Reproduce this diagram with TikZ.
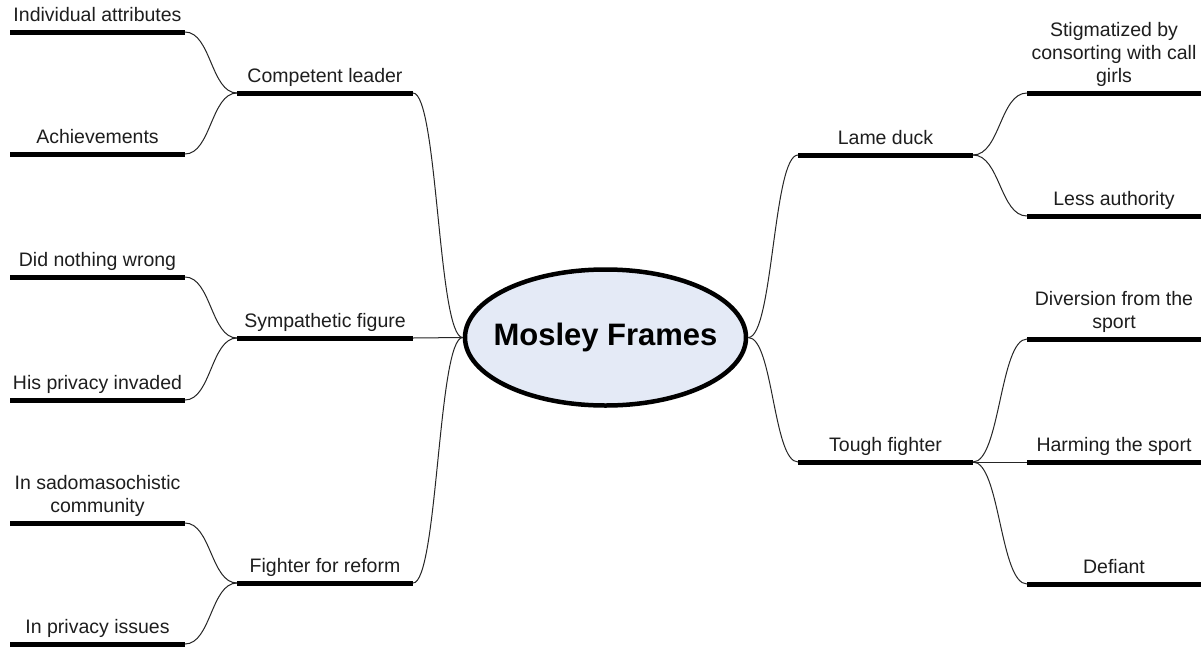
\documentclass[tikz,border=0pt]{standalone}
\usepackage{fontspec}
\setmainfont{Liberation Sans}
\usetikzlibrary{calc,shapes.geometric}
\definecolor{rootfill}{RGB}{228,234,246}
\definecolor{ink}{RGB}{30,30,30}
\begin{document}
\begin{tikzpicture}[x=1pt,y=-1pt,
  bar/.style={line width=5pt,black},
  wire/.style={line width=1pt,black!85},
  link/.style={wire,
    to path={let \p1=(\tikztostart), \p2=(\tikztotarget) in
      .. controls ({(\x1+\x2)/2},\y1) and ({(\x1+\x2)/2},\y2) .. (\tikztotarget)}},
  lbl/.style={inner sep=0pt,text depth=0pt,align=center,text=ink,
    font=\fontsize{19.5}{23}\selectfont},
  rootnode/.style={ellipse,draw,line width=4.5pt,fill=rootfill,inner sep=0pt,
    minimum width=281pt,minimum height=136pt},
  roottext/.style={inner sep=0pt,font=\bfseries\fontsize{31}{36}\selectfont}]
\useasboundingbox[fill=white] (0,0) rectangle (1201,648);

% central topic
\node[rootnode] (root) at (605.5,337.5) {};
\node[roottext] (root-t) at (root.center) {Mosley Frames};

% bar end points: main topics
\coordinate (cl-l) at (237,93);   \coordinate (cl-r) at (413,93);
\coordinate (sf-l) at (237,338);  \coordinate (sf-r) at (413,338);
\coordinate (fr-l) at (237,583);  \coordinate (fr-r) at (413,583);
\coordinate (ld-l) at (798,155);  \coordinate (ld-r) at (973,155);
\coordinate (tf-l) at (798,462);  \coordinate (tf-r) at (973,462);

% bar end points: subtopics
\coordinate (ia-l) at (10,32);    \coordinate (ia-r) at (185,32);
\coordinate (ac-l) at (10,154);   \coordinate (ac-r) at (185,154);
\coordinate (dn-l) at (10,277);   \coordinate (dn-r) at (185,277);
\coordinate (hp-l) at (10,400);   \coordinate (hp-r) at (185,400);
\coordinate (sm-l) at (10,523);   \coordinate (sm-r) at (185,523);
\coordinate (pi-l) at (10,644);   \coordinate (pi-r) at (185,644);
\coordinate (sg-l) at (1027,93);  \coordinate (sg-r) at (1201,93);
\coordinate (la-l) at (1027,216); \coordinate (la-r) at (1201,216);
\coordinate (dv-l) at (1027,339); \coordinate (dv-r) at (1201,339);
\coordinate (hs-l) at (1027,462); \coordinate (hs-r) at (1201,462);
\coordinate (df-l) at (1027,584); \coordinate (df-r) at (1201,584);

% connectors
\draw[link] (root.west) to (cl-r);
\draw[wire] (root.west) -- (sf-r);
\draw[link] (root.west) to (fr-r);
\draw[link] (root.east) to (ld-l);
\draw[link] (root.east) to (tf-l);
\draw[link] (cl-l) to (ia-r);
\draw[link] (cl-l) to (ac-r);
\draw[link] (sf-l) to (dn-r);
\draw[link] (sf-l) to (hp-r);
\draw[link] (fr-l) to (sm-r);
\draw[link] (fr-l) to (pi-r);
\draw[link] (ld-r) to (sg-l);
\draw[link] (ld-r) to (la-l);
\draw[link] (tf-r) to (dv-l);
\draw[wire] (tf-r) -- (hs-l);
\draw[link] (tf-r) to (df-l);

% bars
\foreach \b in {cl,sf,fr,ld,tf,ia,ac,dn,hp,sm,pi,sg,la,dv,hs,df}
  \draw[bar] (\b-l) -- (\b-r);

% labels
\node[lbl,above=10pt] (cl) at ($(cl-l)!0.5!(cl-r)$) {Competent leader};
\node[lbl,above=10pt] (sf) at ($(sf-l)!0.5!(sf-r)$) {Sympathetic figure};
\node[lbl,above=10pt] (fr) at ($(fr-l)!0.5!(fr-r)$) {Fighter for reform};
\node[lbl,above=10pt] (ld) at ($(ld-l)!0.5!(ld-r)$) {Lame duck};
\node[lbl,above=10pt] (tf) at ($(tf-l)!0.5!(tf-r)$) {Tough fighter};
\node[lbl,above=10pt] (ia) at ($(ia-l)!0.5!(ia-r)$) {Individual attributes};
\node[lbl,above=10pt] (ac) at ($(ac-l)!0.5!(ac-r)$) {Achievements};
\node[lbl,above=10pt] (dn) at ($(dn-l)!0.5!(dn-r)$) {Did nothing wrong};
\node[lbl,above=10pt] (hp) at ($(hp-l)!0.5!(hp-r)$) {His privacy invaded};
\node[lbl,above=10pt] (sm) at ($(sm-l)!0.5!(sm-r)$) {In sadomasochistic\\community};
\node[lbl,above=10pt] (pi) at ($(pi-l)!0.5!(pi-r)$) {In privacy issues};
\node[lbl,above=10pt] (sg) at ($(sg-l)!0.5!(sg-r)$) {Stigmatized by\\consorting with call\\girls};
\node[lbl,above=10pt] (la) at ($(la-l)!0.5!(la-r)$) {Less authority};
\node[lbl,above=10pt] (dv) at ($(dv-l)!0.5!(dv-r)$) {Diversion from the\\sport};
\node[lbl,above=10pt] (hs) at ($(hs-l)!0.5!(hs-r)$) {Harming the sport};
\node[lbl,above=10pt] (df) at ($(df-l)!0.5!(df-r)$) {Defiant};
\end{tikzpicture}
\end{document}
